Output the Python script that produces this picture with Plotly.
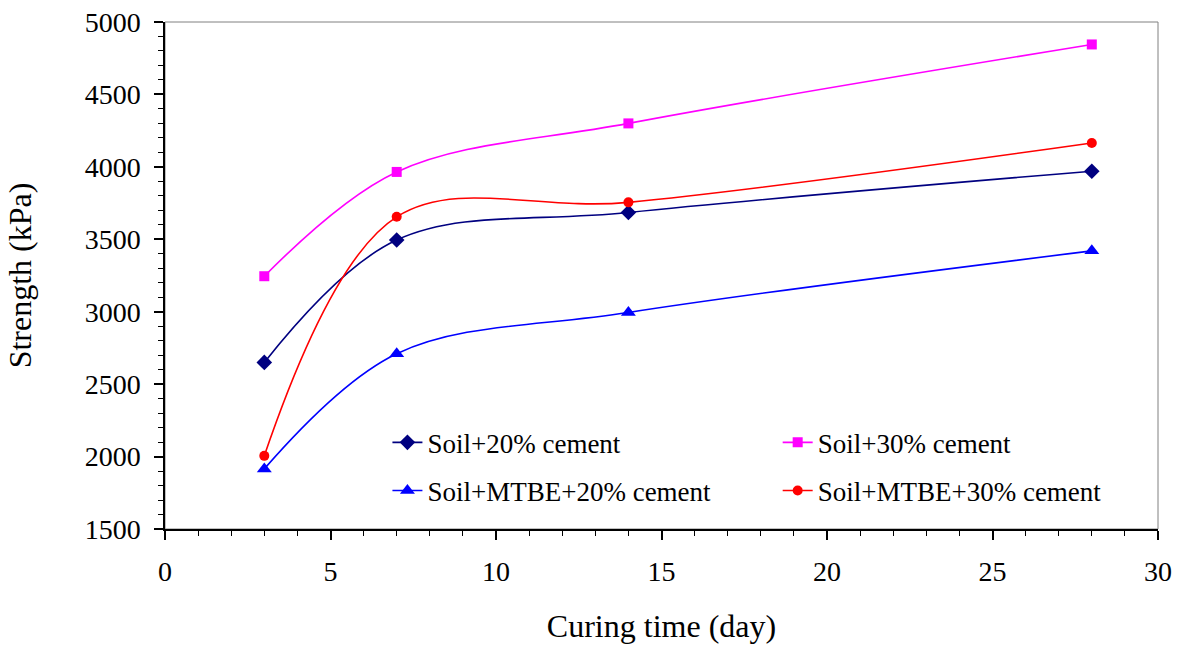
import plotly.graph_objects as go

days = [3, 7, 14, 28]
soil_20 = [2650, 3495, 3685, 3970]
soil_30 = [3245, 3965, 4300, 4845]
mtbe_20 = [1915, 2710, 2995, 3420]
mtbe_30 = [2005, 3655, 3755, 4165]

names = ["Soil+20% cement", "Soil+30% cement", "Soil+MTBE+20% cement", "Soil+MTBE+30% cement"]
series = [soil_20, soil_30, mtbe_20, mtbe_30]
colors = ["#000080", "#FF00FF", "#0000FF", "#FF0000"]
symbols = ["diamond", "square", "triangle-up", "circle"]
sizes = [12, 10, 13, 10]
legend_ids = ["legend", "legend2", "legend3", "legend4"]
legend_x = [0.224, 0.617, 0.224, 0.617]
legend_y = [0.17, 0.17, 0.075, 0.075]

FONT = "Liberation Serif, Times New Roman, serif"

fig = go.Figure()
for n, s, c, sym, sz, lg in zip(names, series, colors, symbols, sizes, legend_ids):
    fig.add_trace(go.Scatter(
        x=days, y=s, name=n, mode="lines+markers",
        line=dict(color=c, width=1.6, shape="spline", smoothing=1.0),
        marker=dict(symbol=sym, size=sz, color=c),
        legend=lg, showlegend=True,
    ))

legends = {}
for lg, lx, ly in zip(legend_ids, legend_x, legend_y):
    legends[lg] = dict(
        x=lx, y=ly, xref="paper", yref="paper", xanchor="left", yanchor="middle",
        font=dict(family=FONT, size=27, color="black"),
        bgcolor="rgba(0,0,0,0)", borderwidth=0, visible=True,
    )

fig.update_layout(
    width=1179, height=646,
    margin=dict(l=165, r=21, t=22, b=117, autoexpand=False),
    plot_bgcolor="white", paper_bgcolor="white",
    showlegend=True,
    font=dict(family=FONT, size=27, color="black"),
    xaxis=dict(
        range=[0, 30], tickmode="linear", tick0=0, dtick=5,
        ticks="outside", ticklen=9, tickwidth=1.5, tickcolor="black",
        minor=dict(dtick=1, ticks="outside", ticklen=5, tickwidth=1.3, tickcolor="black"),
        showline=True, linecolor="black", linewidth=1.5,
        showgrid=False, zeroline=False, ticklabelstandoff=8, automargin=False,
        tickfont=dict(family=FONT, size=28),
        title=dict(text="Curing time (day)", font=dict(family=FONT, size=32), standoff=28),
    ),
    yaxis=dict(
        range=[1500, 5000], tickmode="linear", tick0=1500, dtick=500,
        ticks="outside", ticklen=9, tickwidth=1.5, tickcolor="black",
        minor=dict(dtick=100, ticks="outside", ticklen=5, tickwidth=1.3, tickcolor="black"),
        showline=True, linecolor="black", linewidth=1.5,
        showgrid=False, zeroline=False, ticklabelstandoff=8, automargin=False,
        tickfont=dict(family=FONT, size=28),
        title=dict(text="Strength (kPa)", font=dict(family=FONT, size=32), standoff=43),
    ),
    shapes=[dict(type="rect", xref="paper", yref="paper", x0=0, y0=0, x1=1, y1=1,
                 line=dict(color="#808080", width=1), layer="below")],
    **legends,
)

fig.write_html("out.html")
